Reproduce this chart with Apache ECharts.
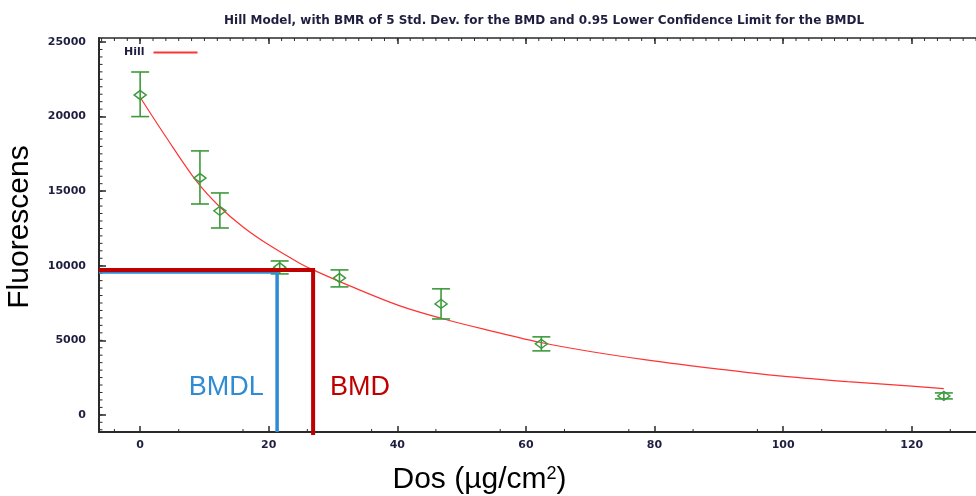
<!DOCTYPE html>
<html>
<head>
<meta charset="utf-8">
<title>Hill Model BMD</title>
<script src="https://cdn.jsdelivr.net/npm/echarts@6/dist/echarts.min.js"></script>
<style>
  html, body { margin: 0; padding: 0; background: #fff; }
  #chart { width: 976px; height: 496px; }
</style>
</head>
<body>
<div id="chart"></div>
<script>
// Observed dose groups: mean response with its error bar.
const doses = [0, 9.3, 12.4, 21.7, 31.0, 46.8, 62.4, 125];
const means = [21450, 15880, 13680, 9900, 9180, 7440, 4760, 1270];
const upper = [22990, 17700, 14880, 10320, 9720, 8450, 5230, 1470];
const lower = [20000, 14140, 12530, 9450, 8580, 6430, 4290, 1070];

// Fitted Hill curve.
const curveX = [0, 4, 8.85, 12.4, 16, 20, 24.8, 26.9, 32.6, 40.4, 46.8, 53.3, 62.1, 70, 78.7, 90, 99.4, 110, 120, 125];
const curveY = [21300, 18650, 15620, 13940, 12600, 11400, 10170, 9720, 8650, 7310, 6480, 5760, 4870, 4250, 3690, 3070, 2610, 2230, 1920, 1760];

// Benchmark dose and its lower limit.
const bmd = 26.9, bmdResp = 9720;
const bmdl = 21.3, bmdlResp = 9580;

const xTicks = [0, 20, 40, 60, 80, 100, 120];
const yTicks = [0, 5000, 10000, 15000, 20000, 25000];
const xMin = -6.4, xMax = 130;
const yMin = -1150, yMax = 25270;

// minor ticks: the top edge shows every 2, the bottom only a sparse set
const xMinorTop = [];
for (let v = -6; v <= 130; v += 2) xMinorTop.push(v);
const xMinorBottom = [-4, 6, 16, 26, 36, 46, 56, 66, 76, 86, 96, 106, 116, 126];
const yMinor = [];
for (let v = -1000; v <= 25000; v += 500) yMinor.push(v);

const GREEN = "#3c9a3c";
const RED = "#ff3333";
const AXIS = "#2a2a2a";
const LABEL = "#1e1e40";
const tickFont = { fontFamily: "DejaVu Sans", fontWeight: "bold", fontSize: 11, color: LABEL, formatter: (v) => String(v) };

// minor ticks drawn as short strokes from an axis edge
function tickSeries(name, values, edge) {
  return {
    name, type: "custom", silent: true, clip: false,
    data: values.map((v) => [v]),
    renderItem: (params, api) => {
      const v = api.value(0);
      let p, d;
      if (edge === "top") { p = api.coord([v, yMax]); d = [0, 3]; }
      else if (edge === "bottom") { p = api.coord([v, yMin]); d = [0, -3]; }
      else { p = api.coord([xMin, v]); d = [3.5, 0]; }
      return {
        type: "line",
        shape: { x1: p[0], y1: p[1], x2: p[0] + d[0], y2: p[1] + d[1] },
        style: { stroke: AXIS, lineWidth: 1 },
      };
    },
    z: 2,
  };
}

const chart = echarts.init(document.getElementById("chart"));
chart.setOption({
  animation: false,
  backgroundColor: "#fff",
  title: {
    text: "Hill Model, with BMR of 5 Std. Dev. for the BMD and 0.95 Lower Confidence Limit for the BMDL",
    left: 219, top: 10,
    textStyle: { fontFamily: "DejaVu Sans", fontSize: 12, fontWeight: "bold", color: LABEL },
  },
  legend: {
    left: 119, top: 42, align: "right",
    itemWidth: 44, itemHeight: 2, itemGap: 6,
    data: [{ name: "Hill", icon: "rect" }],
    textStyle: { fontFamily: "DejaVu Sans", fontWeight: "bold", fontSize: 11, color: LABEL, padding: [0, 4, 0, 0] },
  },
  grid: { left: 99, right: 0, top: 38, bottom: 64, containLabel: false, outerBoundsMode: "none" },
  xAxis: [
    {
      type: "value", min: xMin, max: xMax, position: "bottom",
      splitLine: { show: false },
      axisLine: { show: true, onZero: false, lineStyle: { color: AXIS, width: 2 } },
      axisTick: { show: true, inside: true, length: 6, customValues: xTicks, lineStyle: { color: AXIS, width: 1.5 } },
      axisLabel: Object.assign({ show: true, customValues: xTicks, margin: 8 }, tickFont),
      name: "Dos (µg/cm{sup|2})",
      nameLocation: "middle", nameGap: 33,
      nameTextStyle: {
        fontFamily: "Liberation Sans", fontSize: 30, color: "#000", padding: [0, 116, 0, 0],
        rich: { sup: { fontFamily: "Liberation Sans", fontSize: 18, color: "#000", verticalAlign: "top", padding: [0, 0, 12, 0] } },
      },
    },
    {
      type: "value", min: xMin, max: xMax, position: "top",
      splitLine: { show: false },
      axisLine: { show: true, onZero: false, lineStyle: { color: AXIS, width: 1.5 } },
      axisTick: { show: true, inside: true, length: 6, customValues: xTicks, lineStyle: { color: AXIS, width: 1.5 } },
      axisLabel: { show: false },
    },
  ],
  yAxis: [
    {
      type: "value", min: yMin, max: yMax, position: "left",
      splitLine: { show: false },
      axisLine: { show: true, onZero: false, lineStyle: { color: AXIS, width: 2 } },
      axisTick: { show: true, inside: true, length: 7, customValues: yTicks, lineStyle: { color: AXIS, width: 1.5 } },
      axisLabel: Object.assign({ show: true, customValues: yTicks, margin: 13 }, tickFont),
      name: "Fluorescens", nameLocation: "middle", nameGap: 64,
      nameTextStyle: { fontFamily: "Liberation Sans", fontSize: 30, color: "#000", padding: [0, 0, 0, 16] },
    },
  ],
  series: [
    tickSeries("ticksTop", xMinorTop, "top"),
    tickSeries("ticksBottom", xMinorBottom, "bottom"),
    tickSeries("ticksLeft", yMinor, "left"),
    {
      name: "Hill", type: "line", smooth: 0.35, showSymbol: false, silent: true,
      data: curveX.map((x, i) => [x, curveY[i]]),
      lineStyle: { color: RED, width: 1.2 },
      itemStyle: { color: RED },
      z: 3,
    },
    {
      name: "errors", type: "custom", silent: true,
      data: doses.map((x, i) => [x, lower[i], upper[i]]),
      renderItem: (params, api) => {
        const lo = api.coord([api.value(0), api.value(1)]);
        const hi = api.coord([api.value(0), api.value(2)]);
        const hw = 9;
        const style = { stroke: GREEN, lineWidth: 1.6 };
        return {
          type: "group",
          children: [
            { type: "line", shape: { x1: lo[0], y1: lo[1], x2: hi[0], y2: hi[1] }, style },
            { type: "line", shape: { x1: lo[0] - hw, y1: lo[1], x2: lo[0] + hw, y2: lo[1] }, style },
            { type: "line", shape: { x1: hi[0] - hw, y1: hi[1], x2: hi[0] + hw, y2: hi[1] }, style },
          ],
        };
      },
      z: 4,
    },
    {
      name: "means", type: "scatter", silent: true,
      data: doses.map((x, i) => [x, means[i]]),
      symbol: "diamond", symbolSize: [12, 9],
      itemStyle: { color: "rgba(255,255,255,0)", borderColor: GREEN, borderWidth: 1.5, opacity: 1 },
      z: 5,
    },
    {
      name: "BMDL line", type: "line", silent: true, clip: false, showSymbol: false,
      data: [[xMin, bmdlResp], [bmdl, bmdlResp], [bmdl, yMin]],
      lineStyle: { color: "#2f8bd3", width: 3.5, join: "miter" },
      z: 6,
    },
    {
      name: "BMD line", type: "line", silent: true, clip: false, showSymbol: false,
      data: [[xMin, bmdResp], [bmd, bmdResp], [bmd, yMin - 200]],
      lineStyle: { color: "#c00000", width: 4, join: "miter" },
      z: 7,
    },
    {
      name: "labels", type: "scatter", silent: true, symbolSize: 0,
      itemStyle: { opacity: 1 },
      data: [
        { value: [13.4, 1810], label: { formatter: "BMDL", color: "#2f8bd3" } },
        { value: [34.2, 1810], label: { formatter: "BMD", color: "#c00000" } },
      ],
      label: { show: true, position: "inside", fontFamily: "Liberation Sans", fontSize: 27, textBorderWidth: 0, opacity: 1 },
      z: 8,
    },
  ],
});
</script>
</body>
</html>
